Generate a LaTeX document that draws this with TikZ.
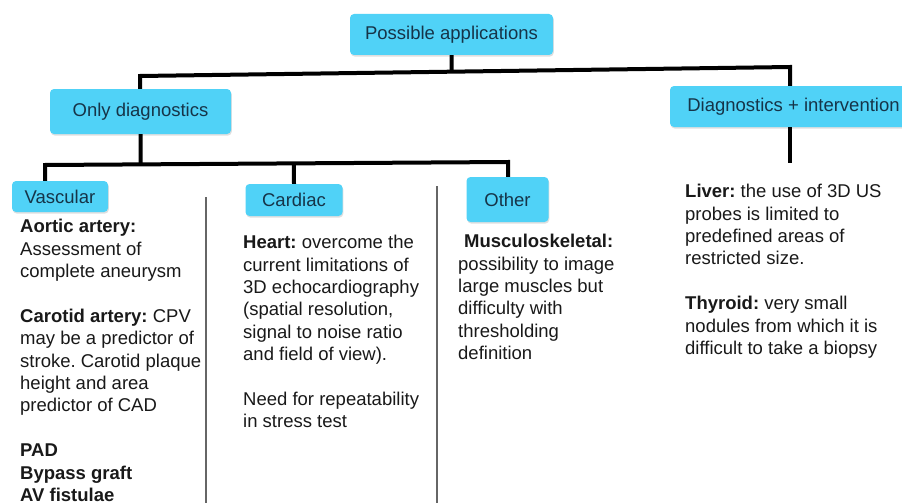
\documentclass[tikz,border=0pt]{standalone}
\usepackage{fontspec}
\setmainfont{Liberation Sans}
\usetikzlibrary{calc,shadows}
\definecolor{boxcyan}{RGB}{80,210,247}
\definecolor{boxtext}{RGB}{22,52,72}
\definecolor{bodytext}{RGB}{25,25,25}
\frenchspacing
\begin{document}
\begin{tikzpicture}[x=1pt,y=-1pt,
  topic/.style={rectangle,rounded corners=4pt,fill=boxcyan,text=boxtext,inner sep=0pt,
    font=\fontsize{18.5}{22.4}\selectfont,
    drop shadow={opacity=0.25,shadow xshift=0.8pt,shadow yshift=-1.6pt}},
  notes/.style={anchor=north west,inner sep=0pt,align=left,text=bodytext,
    font=\fontsize{18.5}{22.4}\selectfont},
  conn/.style={line width=4pt,black},
  divider/.style={line width=1.8pt,black!60}]
\clip (0,0) rectangle (902,503);
\fill[white] (0,0) rectangle (902,503);
\node[topic,minimum width=203pt,minimum height=41pt] (apps) at (451.5,34.5) {Possible applications};
\node[topic,minimum width=181pt,minimum height=45pt] (diag) at (140.5,111.5) {Only diagnostics};
\node[topic,minimum width=247pt,minimum height=41pt] (interv) at (793.5,106.5) {Diagnostics + intervention};
\node[topic,minimum width=96pt,minimum height=31pt] (vasc) at (60,196.5) {Vascular};
\node[topic,minimum width=97pt,minimum height=32pt] (card) at (294,200) {Cardiac};
\node[topic,minimum width=82pt,minimum height=45pt] (other) at (507.5,199.5) {Other};
\coordinate (jl) at (140,76);
\coordinate (jr) at (790,67);
\coordinate (kl) at (45,165);
\coordinate (kr) at (508,162);
\draw[conn] ($(jl)!(apps.south)!(jr)$) -- (apps.south);
\draw[conn] (diag.north -| jl) -- (jl) -- (jr) -- (interv.north -| jr);
\draw[conn] (diag.south) -- ($(kl)!(diag.south)!(kr)$);
\draw[conn] (vasc.north -| kl) -- (kl) -- (kr) -- (other.north -| kr);
\draw[conn] ($(kl)!(card.north)!(kr)$) -- (card.north);
\draw[conn] (interv.south -| jr) -- ++(0,36) coordinate (ie);
\coordinate (d1t) at (206,197);
\coordinate (d1b) at (206,503);
\coordinate (d2t) at (437,186);
\coordinate (d2b) at (437,503);
\draw[divider] (d1t) -- (d1b);
\draw[divider] (d2t) -- (d2b);
\node[notes] (vasctxt) at (20,219) {\textbf{Aortic artery:}\\ Assessment of\\ complete aneurysm\\[22.4pt]
  \textbf{Carotid artery:} CPV\\ may be a predictor of\\ stroke. Carotid plaque\\ height and area\\ predictor of CAD\\[22.4pt]
  \textbf{PAD}\\ \textbf{Bypass graft}\\ \textbf{AV fistulae}};
\node[notes] (cardtxt) at (243,235) {\textbf{Heart:} overcome the\\ current limitations of\\ 3D echocardiography\\ (spatial resolution,\\ signal to noise ratio\\ and field of view).\\[22.4pt]
  Need for repeatability\\ in stress test};
\node[notes] (othertxt) at (458,234) {\hspace*{6pt}\textbf{Musculoskeletal:}\\ possibility to image\\ large muscles but\\ difficulty with\\ thresholding\\ definition};
\node[notes] (intervtxt) at (685,184) {\textbf{Liver:} the use of 3D US\\ probes is limited to\\ predefined areas of\\ restricted size.\\[22.4pt]
  \textbf{Thyroid:} very small\\ nodules from which it is\\ difficult to take a biopsy};
\end{tikzpicture}
\end{document}
